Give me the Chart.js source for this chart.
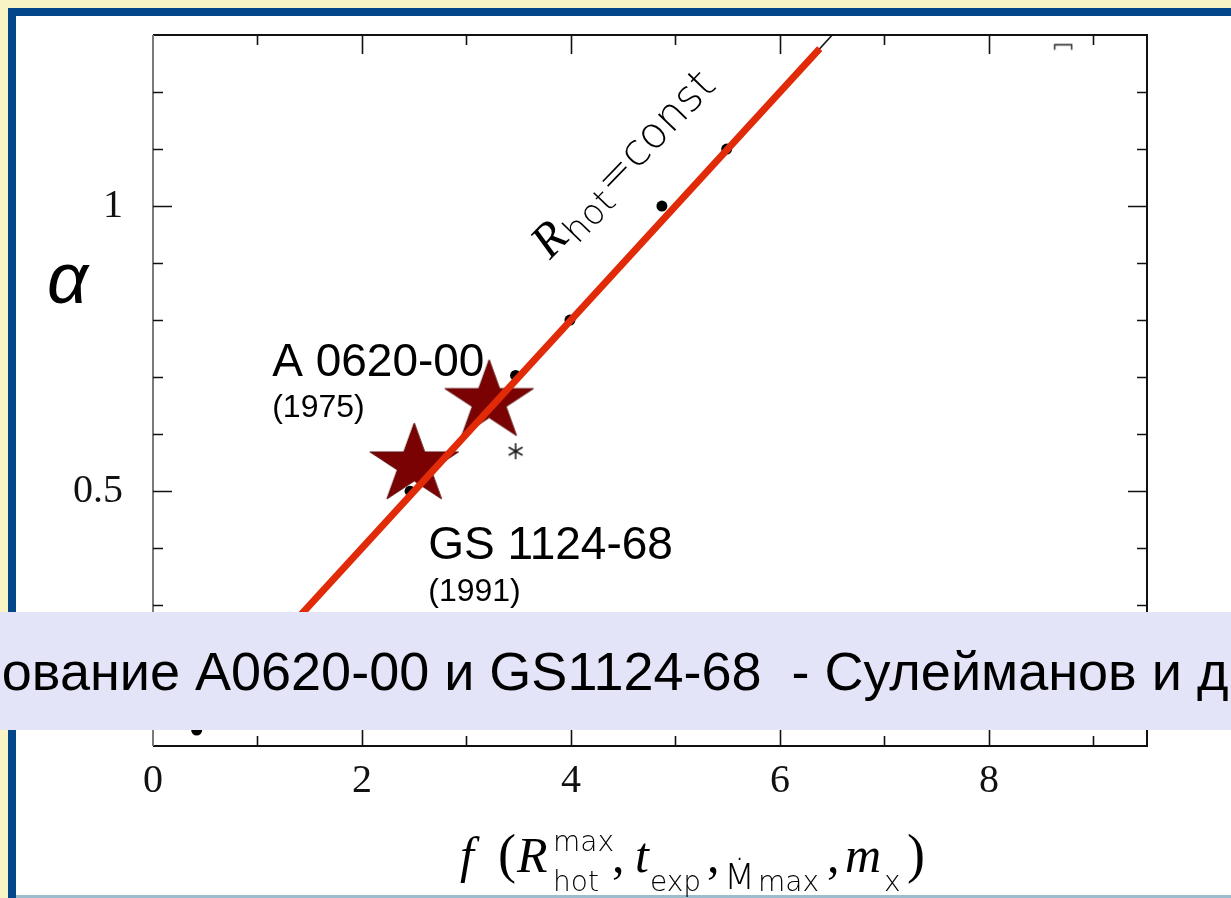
<!DOCTYPE html>
<html>
<head>
<meta charset="utf-8">
<script src="https://cdn.jsdelivr.net/npm/chart.js@4.4.1/dist/chart.umd.min.js"></script>
<style>
  html, body { margin: 0; padding: 0; background: #f8f4c6; overflow: hidden; }
  canvas { display: block; }
</style>
</head>
<body>
<canvas id="c" width="1231" height="898"></canvas>
<script>
// Model sequence: f(R_hot^max, t_exp, Mdot_max, m_x) against alpha
const modelF     = [0.418, 2.46, 3.47, 3.99, 4.87, 5.49];
const modelAlpha = [0.081, 0.50, 0.703, 0.80, 1.00, 1.10];

// R_hot = const relation (thin black) and the fitted segment (thick red)
const constLineF     = [1.30, 6.50];
const constLineAlpha = [0.26, 1.30];
const fitF     = [1.30, 6.38];
const fitAlpha = [0.26, 1.276];

// Observed outbursts
const sourceNames = ['A 0620-00', 'GS 1124-68'];
const sourceYears = ['(1975)', '(1991)'];
const sourceF     = [3.217, 2.50];
const sourceAlpha = [0.657, 0.546];

// Extra markers
const asteriskF = [3.47];
const asteriskAlpha = [0.570];
const edgeF = [8.71];
const edgeAlpha = [1.275];

// Axes
const xMin = 0, xMax = 9.512;
const yMin = 0.053, yMax = 1.30;
const xMajorTicks = [0, 2, 4, 6, 8];
const xMinorTicks = [1, 3, 5, 7, 9];
const yMajorTicks = [0.5, 1];
const yMinorTicks = [0.1, 0.2, 0.3, 0.4, 0.6, 0.7, 0.8, 0.9, 1.1, 1.2];
const xTickLabels = ['0', '2', '4', '6', '8'];
const yTickLabels = ['0.5', '1'];

const bandText = 'ование A0620-00 и GS1124-68  - Сулейманов и д';

const pts = (xs, ys) => xs.map((x, i) => ({ x, y: ys[i] }));

function starImage(rx, ry, fill, stroke) {
  const w = Math.ceil(2 * rx * Math.sin(2 * Math.PI / 5)) + 4;
  const h = Math.ceil(2 * ry) + 4;
  const c = document.createElement('canvas');
  c.width = w; c.height = h;
  const g = c.getContext('2d');
  g.translate(w / 2, h / 2);
  g.beginPath();
  for (let i = 0; i < 10; i++) {
    const r = i % 2 === 0 ? 1 : 0.382;
    const a = -Math.PI / 2 + i * Math.PI / 5;
    g.lineTo(Math.cos(a) * rx * r, Math.sin(a) * ry * r);
  }
  g.closePath();
  g.fillStyle = fill; g.fill();
  g.strokeStyle = stroke; g.lineWidth = 1; g.stroke();
  return c;
}

function asteriskImage(r) {
  const s = Math.ceil(2 * r) + 4;
  const c = document.createElement('canvas');
  c.width = s; c.height = s;
  const g = c.getContext('2d');
  g.translate(s / 2, s / 2);
  g.strokeStyle = '#1a1a1a'; g.lineWidth = 1.6;
  [90, 30, 150].forEach(d => {
    const a = d * Math.PI / 180;
    g.beginPath();
    g.moveTo(-Math.cos(a) * r, -Math.sin(a) * r);
    g.lineTo(Math.cos(a) * r, Math.sin(a) * r);
    g.stroke();
  });
  return c;
}

function bracketImage() {
  const c = document.createElement('canvas');
  c.width = 20; c.height = 12;
  const g = c.getContext('2d');
  g.strokeStyle = '#222'; g.lineWidth = 1.4;
  g.beginPath();
  g.moveTo(1.5, 6.5); g.lineTo(1.5, 1.5); g.lineTo(18.5, 1.5); g.lineTo(18.5, 6.5);
  g.stroke();
  return c;
}

const starImg = starImage(46.5, 42, '#7a0202', '#5c0a0a');

// Slide frame behind the plot
const framePlugin = {
  id: 'frame',
  beforeDraw(chart) {
    const ctx = chart.ctx;
    ctx.save();
    ctx.fillStyle = '#f8f4c6';
    ctx.fillRect(0, 0, 1231, 898);
    ctx.fillStyle = '#03468a';
    ctx.fillRect(8, 8, 1231 - 8, 898 - 8);
    ctx.fillStyle = '#ffffff';
    ctx.fillRect(16, 16, 1231 - 16, 895 - 16);
    ctx.fillStyle = '#9dbccc';
    ctx.fillRect(16, 895, 1231 - 16, 3);
    ctx.restore();
  }
};

// Box with inward ticks on all four sides, annotations
const axesPlugin = {
  id: 'axesBox',
  beforeDatasetsDraw(chart) {
    const { ctx, chartArea: a, scales: { x, y } } = chart;
    ctx.save();
    // box
    ctx.lineWidth = 2;
    ctx.strokeStyle = '#111';
    ctx.beginPath();
    ctx.moveTo(a.left, a.top); ctx.lineTo(a.right, a.top);
    ctx.lineTo(a.right, a.bottom); ctx.lineTo(a.left, a.bottom);
    ctx.stroke();
    ctx.strokeStyle = '#7a7a7a';
    ctx.beginPath();
    ctx.moveTo(a.left, a.top); ctx.lineTo(a.left, a.bottom);
    ctx.stroke();

    ctx.strokeStyle = '#111';
    ctx.lineWidth = 1.6;
    const tickX = (v, len) => {
      const px = Math.round(x.getPixelForValue(v)) + 0.5;
      ctx.beginPath();
      ctx.moveTo(px, a.bottom); ctx.lineTo(px, a.bottom - len);
      ctx.moveTo(px, a.top); ctx.lineTo(px, a.top + len);
      ctx.stroke();
    };
    const tickY = (v, len) => {
      const py = Math.round(y.getPixelForValue(v)) + 0.5;
      ctx.beginPath();
      ctx.moveTo(a.left, py); ctx.lineTo(a.left + len, py);
      ctx.moveTo(a.right, py); ctx.lineTo(a.right - len, py);
      ctx.stroke();
    };
    xMajorTicks.forEach(v => { if (v > xMin) tickX(v, 19); });
    xMinorTicks.forEach(v => tickX(v, 10));
    yMajorTicks.forEach(v => tickY(v, 19));
    yMinorTicks.forEach(v => tickY(v, 10));

    // source labels
    ctx.fillStyle = '#000';
    ctx.textBaseline = 'alphabetic';
    ctx.textAlign = 'left';
    const s0x = x.getPixelForValue(sourceF[0]), s0y = y.getPixelForValue(sourceAlpha[0]);
    ctx.font = '46px "Liberation Sans", Arial, sans-serif';
    ctx.fillText(sourceNames[0], s0x - 217, s0y - 26);
    ctx.font = '32px "Liberation Sans", Arial, sans-serif';
    ctx.fillText(sourceYears[0], s0x - 217, s0y + 15);
    const s1x = x.getPixelForValue(sourceF[1]), s1y = y.getPixelForValue(sourceAlpha[1]);
    ctx.font = '46px "Liberation Sans", Arial, sans-serif';
    ctx.fillText(sourceNames[1], s1x + 14, s1y + 94);
    ctx.font = '32px "Liberation Sans", Arial, sans-serif';
    ctx.fillText(sourceYears[1], s1x + 14, s1y + 136);

    // R_hot = const, written along the relation
    const rx = x.getPixelForValue(3.80), ry = y.getPixelForValue(0.905);
    ctx.save();
    ctx.translate(rx, ry);
    ctx.rotate(-46 * Math.PI / 180);
    ctx.font = 'italic 48px "Liberation Serif", serif';
    ctx.fillText('R', 0, 0);
    let cx = ctx.measureText('R').width + 1;
    ctx.font = '200 35px "DejaVu Sans", sans-serif';
    ctx.fillText('hot', cx, 9);
    cx += ctx.measureText('hot').width + 1;
    ctx.font = '200 43px "DejaVu Sans", sans-serif';
    ctx.fillText('=const', cx, 0);
    ctx.restore();

    // alpha axis name
    ctx.font = 'italic 72px "Liberation Sans", Arial, sans-serif';
    ctx.fillText('α', 47, 303);

    // horizontal axis name: f (R_hot^max, t_exp, Mdot_max, m_x)
    const base = 872, sub = 891, sup = 851;
    const it = 'italic 50px "Liberation Serif", serif';
    const rm = '54px "Liberation Serif", serif';
    const cm = '50px "Liberation Serif", serif';
    const ss = '200 28px "DejaVu Sans", sans-serif';
    const parts = [
      [it, 'f', 460, base],
      [rm, '(', 498, base],
      [it, 'R', 517, base],
      [ss, 'max', 553, sup],
      [ss, 'hot', 553, sub],
      [cm, ',', 612, base],
      [it, 't', 635, base],
      [ss, 'exp', 650, sub],
      [cm, ',', 707, base],
      ['200 36px "DejaVu Sans", sans-serif', 'Ṁ', 724, 889],
      [ss, 'max', 758, sub],
      [cm, ',', 827, base],
      [it, 'm', 845, base],
      [ss, 'x', 884, sub],
      [rm, ')', 907, base]
    ];
    parts.forEach(([f, t, px, py]) => { ctx.font = f; ctx.fillText(t, px, py); });
    ctx.restore();
  },
  afterDraw(chart) {
    const ctx = chart.ctx;
    ctx.save();
    ctx.fillStyle = '#e4e4f8';
    ctx.fillRect(0, 612, 1231, 118);
    ctx.fillStyle = '#000';
    ctx.font = '54px "Liberation Sans", Arial, sans-serif';
    ctx.textBaseline = 'alphabetic';
    ctx.textAlign = 'left';
    const lead = ctx.measureText('ование ').width;
    ctx.fillText(bandText, 195 - lead, 690);
    ctx.restore();
  }
};

const noEdgePadding = s => { s.paddingTop = 0; s.paddingBottom = 0; s.paddingLeft = 0; s.paddingRight = 0; };

new Chart(document.getElementById('c'), {
  type: 'scatter',
  data: {
    datasets: [
      {
        label: 'asterisk',
        data: pts(asteriskF, asteriskAlpha),
        pointStyle: asteriskImage(8),
        order: 0
      },
      {
        label: 'fit',
        data: pts(fitF, fitAlpha),
        showLine: true,
        borderColor: '#e02a08',
        borderWidth: 7,
        borderCapStyle: 'butt',
        pointRadius: 0,
        order: 1
      },
      {
        label: 'R_hot = const',
        data: pts(constLineF, constLineAlpha),
        showLine: true,
        borderColor: '#111',
        borderWidth: 1.6,
        pointRadius: 0,
        clip: 0,
        order: 2
      },
      {
        label: 'models',
        data: pts(modelF, modelAlpha),
        pointRadius: 5.5,
        pointBackgroundColor: '#000',
        pointBorderColor: '#000',
        pointBorderWidth: 0,
        order: 3
      },
      {
        label: 'sources',
        data: pts(sourceF, sourceAlpha),
        pointStyle: starImg,
        order: 4
      },
      {
        label: 'edge',
        data: pts(edgeF, edgeAlpha),
        pointStyle: bracketImage(),
        order: 5
      }
    ]
  },
  options: {
    responsive: false,
    animation: false,
    devicePixelRatio: 1,
    events: [],
    layout: { padding: { left: 0, right: 84, top: 35, bottom: 0 } },
    plugins: { legend: { display: false }, tooltip: { enabled: false } },
    scales: {
      x: {
        type: 'linear', min: xMin, max: xMax,
        grid: { display: false, drawTicks: false },
        border: { display: false },
        afterFit(s) { s.height = 152; noEdgePadding(s); },
        afterBuildTicks(s) { s.ticks = xMajorTicks.map(v => ({ value: v })); },
        ticks: {
          callback: v => xTickLabels[xMajorTicks.indexOf(v)],
          font: { family: '"Liberation Serif", serif', size: 40 },
          color: '#111', padding: 11, maxRotation: 0, autoSkip: false
        }
      },
      y: {
        type: 'linear', min: yMin, max: yMax,
        grid: { display: false, drawTicks: false },
        border: { display: false },
        afterFit(s) { s.width = 153; noEdgePadding(s); },
        afterBuildTicks(s) { s.ticks = yMajorTicks.map(v => ({ value: v })); },
        ticks: {
          callback: v => yTickLabels[yMajorTicks.indexOf(v)],
          font: { family: '"Liberation Serif", serif', size: 40 },
          color: '#111', padding: 30, autoSkip: false
        }
      }
    }
  },
  plugins: [framePlugin, axesPlugin]
});
</script>
</body>
</html>
